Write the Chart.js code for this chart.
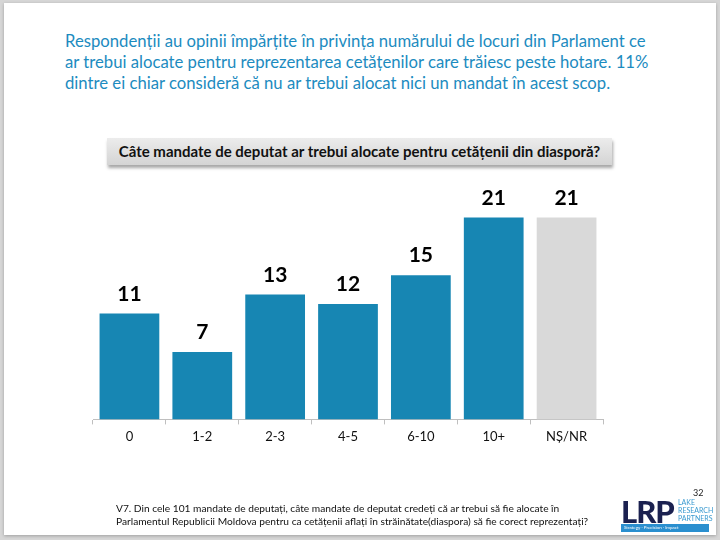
<!DOCTYPE html>
<html>
<head>
<meta charset="utf-8">
<script src="https://cdn.jsdelivr.net/npm/chart.js@4/dist/chart.umd.min.js"></script>
<style>
  body { margin: 0; width: 720px; height: 540px; background: #d6d6d6; position: relative; overflow: hidden; font-family: Lato, "Open Sans", sans-serif; }
  #slide { position: absolute; left: 4px; top: 3px; width: 712px; height: 532px; background: #fff; box-shadow: 0 1px 3px rgba(0,0,0,0.25); }
  .t { position: absolute; white-space: nowrap; }
  #head div { position: absolute; left: 65px; color: #1C8BC0; font-size: 16.7px; white-space: nowrap; }
  #qbox { position: absolute; left: 107px; top: 138px; width: 505px; height: 27px; background: linear-gradient(#ececec, #d4d4d4); box-shadow: 1px 3px 3px rgba(0,0,0,0.35); font-weight: bold; font-size: 15px; text-align: center; line-height: 27px; color: #111; }
  #foot { position: absolute; left: 116px; top: 502px; font-size: 10.2px; line-height: 13px; color: #111; white-space: nowrap; }
  #graph { position: absolute; left: 0; top: 0; }
</style>
</head>
<body>
<div id="slide"></div>
<div id="head">
  <div style="top:31px">Respondenții au opinii împărțite în privința numărului de locuri din Parlament ce</div>
  <div style="top:52px">ar trebui alocate pentru reprezentarea cetățenilor care trăiesc peste hotare. 11%</div>
  <div style="top:73px">dintre ei chiar consideră că nu ar trebui alocat nici un mandat în acest scop.</div>
</div>
<div id="qbox">Câte mandate de deputat ar trebui alocate pentru cetățenii din diasporă?</div>
<canvas id="graph" width="720" height="540"></canvas>
<div id="foot">V7. Din cele 101 mandate de deputați, câte mandate de deputat credeți că ar trebui să fie alocate în<br>Parlamentul Republicii Moldova pentru ca cetățenii aflați în străinătate(diaspora) să fie corect reprezentați?</div>
<div class="t" style="left:693px;top:487px;font-size:9px;color:#222">32</div>
<div class="t" style="left:621px;top:492px;font-size:31px;font-weight:900;color:#1b2150;letter-spacing:-1px">LRP</div>
<div class="t" style="left:678px;top:498px;font-size:7px;line-height:8px;color:#3a9ad0">LAKE<br>RESEARCH<br>PARTNERS</div>
<div class="t" style="left:621px;top:524px;width:85px;height:8px;background:#2a8fcf;font-size:4.5px;line-height:8px;color:#fff;padding-left:3px">Strategy · Precision · Impact</div>

<script>
// chart data
var categories = ['0', '1-2', '2-3', '4-5', '6-10', '10+', 'NȘ/NR'];
var values = [11, 7, 13, 12, 15, 21, 21];
var barColors = ['#1786B3', '#1786B3', '#1786B3', '#1786B3', '#1786B3', '#1786B3', '#D9D9D9'];

// draws the number above every bar
var valueLabels = {
    id: 'valueLabels',
    afterDatasetsDraw: function(chart) {
        var ctx = chart.ctx;
        var meta = chart.getDatasetMeta(0);
        ctx.save();
        ctx.font = 'bold 21px Lato, sans-serif';
        ctx.fillStyle = '#000';
        ctx.textAlign = 'center';
        ctx.textBaseline = 'bottom';
        meta.data.forEach(function(bar, i) {
            ctx.fillText(values[i], bar.x, bar.y - 9);
        });
        ctx.restore();
    }
};

var ctx = document.getElementById('graph');
new Chart(ctx, {
    type: 'bar',
    data: {
        labels: categories,
        datasets: [{
            data: values,
            backgroundColor: barColors,
            borderWidth: 0,
            barPercentage: 0.82,
            categoryPercentage: 1
        }]
    },
    options: {
        responsive: false,
        animation: false,
        layout: { padding: { left: 93, right: 117, top: 179, bottom: 90 } },
        plugins: { legend: { display: false }, tooltip: { enabled: false } },
        scales: {
            x: {
                border: { color: '#BFBFBF', width: 1 },
                grid: { drawOnChartArea: false, drawTicks: true, tickLength: 5, color: '#BFBFBF', offset: true },
                ticks: { color: '#111', font: { family: 'Lato', size: 13 }, padding: 5 }
            },
            y: { display: false, min: 0, max: 25 }
        }
    },
    plugins: [valueLabels]
});
</script>
</body>
</html>
